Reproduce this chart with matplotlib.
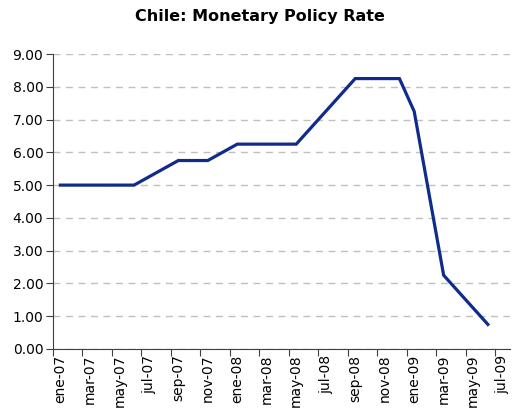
import numpy as np
import matplotlib
matplotlib.use('Agg')
import matplotlib.pyplot as plt

#==============================================================================
# Data: Chile monetary policy rate, monthly ene-07 .. jul-09
#==============================================================================
meses = ['ene', 'feb', 'mar', 'abr', 'may', 'jun', 'jul', 'ago', 'sep', 'oct', 'nov', 'dic']
months = ['%s-%s' % (m, y) for y in ['07', '08', '09'] for m in meses][:31]
rate = [5.00, 5.00, 5.00, 5.00, 5.00, 5.00, 5.25, 5.50, 5.75, 5.75, 5.75, 6.00,
        6.25, 6.25, 6.25, 6.25, 6.25, 6.75, 7.25, 7.75, 8.25, 8.25, 8.25, 8.25,
        7.25, 4.75, 2.25, 1.75, 1.25, 0.75]

#==============================================================================
# Plot
#==============================================================================
fig = plt.figure(figsize=(5.2, 4.12), dpi=100)
ax = fig.add_axes([53/520., 1-349/412., 457/520., 295/412.])

x = np.arange(len(rate)) + 0.5
ax.plot(x, rate, color='#0F2C8C', linewidth=2.3, solid_joinstyle='miter')

ax.set_xlim(0, len(months))
ax.set_ylim(0, 9)
ax.set_yticks(np.arange(0, 10))
ax.set_yticklabels(['%.2f' % v for v in np.arange(0, 10)], fontsize=10)
ax.yaxis.grid(True, linestyle=(0, (5, 4)), color='#c0c0c0', linewidth=1.0)
ax.set_axisbelow(True)

# ticks between categories every 2 months, labels centred on categories
ax.set_xticks(np.arange(0, len(months) + 1, 2))
ax.set_xticklabels([])
ax.set_xticks(np.arange(0, len(months), 2) + 0.5, minor=True)
ax.set_xticklabels(months[::2], minor=True, rotation=90, fontsize=10)
ax.tick_params(axis='x', which='minor', length=0, pad=4)
ax.tick_params(axis='x', which='major', length=5, direction='out', color='#404040')
ax.tick_params(axis='y', length=5, direction='out', color='#404040', pad=2)

for s in ['top', 'right']:
    ax.spines[s].set_visible(False)
for s in ['left', 'bottom']:
    ax.spines[s].set_color('#404040')

fig.text(0.5, 1-17/412., 'Chile: Monetary Policy Rate', ha='center', va='center',
         fontsize=11.5, fontweight='bold')

plt.savefig('out.png', dpi=100)
